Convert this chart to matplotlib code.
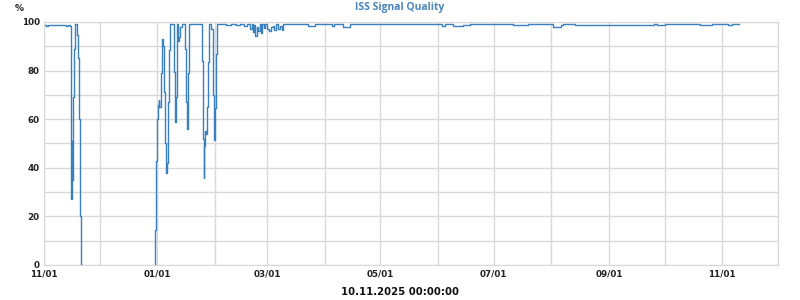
import matplotlib
matplotlib.use("Agg")
import matplotlib.pyplot as plt
import matplotlib.dates as mdates
import numpy as np
import pandas as pd

# days since 2024-11-01 and signal quality in %
start = pd.Timestamp("2024-11-01")
day = [0.0, 1.1, 2.2, 6.5, 11.8, 12.9, 14.0,
       14.4, 14.6, 14.9, 15.1, 15.4, 15.7, 16.2, 16.8, 17.8, 18.3, 19.1, 19.4, 19.9, 20.2,
       59.6, 59.8, 60.3, 61.0, 61.5, 61.8, 62.1, 63.0, 63.5, 63.8, 64.6, 65.2, 65.7, 66.0,
       66.6, 67.3, 68.0, 70.1, 70.7, 70.9, 71.4, 71.8, 72.3, 72.9, 73.4, 74.1, 76.1, 76.6,
       77.1, 77.5, 77.9, 84.9, 85.4, 86.0, 86.3, 86.8, 87.2, 87.8, 88.3, 88.8, 90.1, 90.8,
       91.5, 92.1, 92.4, 93.0,
       98.0, 100.5, 103.5, 105.5, 107.5, 109.0, 111.0, 111.8, 112.5, 113.2, 113.8, 114.5,
       115.2, 116.0, 116.6, 117.4, 118.2, 119.0, 120.0, 121.0, 122.0, 123.0, 124.0, 125.0,
       126.0, 127.0, 128.0, 128.7,
       142.0, 146.0, 155.0, 156.0, 161.0, 164.7, 214.0, 216.0, 220.0, 225.5, 229.0,
       252.5, 255.0, 260.6, 274.0, 278.0, 279.4, 285.9, 309.6, 310.5, 328.4, 330.0,
       334.0, 353.0, 359.6, 368.3, 370.4, 374.0]
quality = [98.6, 98.2, 98.8, 98.6, 98.3, 98.8, 98.4,
           63, 27, 51, 35, 45, 69, 89, 99.0, 94.6, 85, 60, 20, 0, np.nan,
           0, 14.4, 43, 60, 66, 68, 65, 79, 93, 90, 71, 50, 38, 42,
           67, 88.5, 99.3, 79.5, 59, 69, 90, 99.3, 92, 94, 98, 99.3, 89, 67,
           56, 79, 99.3, 84, 52, 36, 49, 55, 54, 65, 83.5, 99.3, 97, 70,
           51.4, 64.6, 87, 99.3,
           98.6, 99.1, 98.8, 99.2, 98.4, 99.1, 97.2, 99.0, 95.8, 98.6, 94.4, 98.1,
           96.2, 99.0, 95.3, 99.1, 97.7, 99.2, 97.2, 96.3, 98.1, 98.4, 96.5, 99.0,
           97.0, 98.4, 96.8, 99.3,
           98.4, 99.2, 98.4, 99.1, 97.8, 99.2, 98.2, 99.0, 98.2, 98.9, 99.2,
           98.8, 98.9, 99.3, 97.9, 98.9, 99.3, 98.9, 98.6, 98.9, 99.3, 98.9,
           99.3, 98.9, 99.3, 98.9, 99.3, 99.3]

dates = start + pd.to_timedelta(day, unit="D")

fig = plt.figure(figsize=(8, 3), dpi=100)
ax = fig.add_axes([0.055, 0.1167, 0.9175, 0.81])

ax.plot(dates, quality, drawstyle="steps-post", color="#3a7fbf", lw=1.0)

ax.set_ylim(0, 100)
ax.set_xlim(pd.Timestamp("2024-11-01"), pd.Timestamp("2025-12-01"))
ax.set_yticks(range(0, 101, 20))
ax.set_yticks(range(0, 101, 10), minor=True)
ax.xaxis.set_major_locator(mdates.MonthLocator(bymonth=[1, 3, 5, 7, 9, 11]))
ax.xaxis.set_minor_locator(mdates.MonthLocator())
ax.xaxis.set_major_formatter(mdates.DateFormatter("%m/%d"))

ax.grid(True, which="both", color="#d9d9d9", lw=1)
ax.set_axisbelow(True)
ax.tick_params(which="both", length=0, labelsize=6.3, labelcolor="#222222", pad=3)
for lab in ax.get_xticklabels() + ax.get_yticklabels():
    lab.set_fontweight("bold")
for sp in ax.spines.values():
    sp.set_color("#d9d9d9")

fig.text(0.5, 0.975, "ISS Signal Quality", ha="center", va="center",
         color="#4a86c0", fontsize=7.5, fontweight="bold", family="Open Sans")
fig.text(0.018, 0.973, "%", ha="left", va="center", fontsize=6.5,
         fontweight="bold", color="#222222")
fig.text(0.5, 0.027, "10.11.2025 00:00:00", ha="center", va="center",
         fontsize=7.3, fontweight="bold", color="#111111")

fig.savefig("out.png", dpi=100)
